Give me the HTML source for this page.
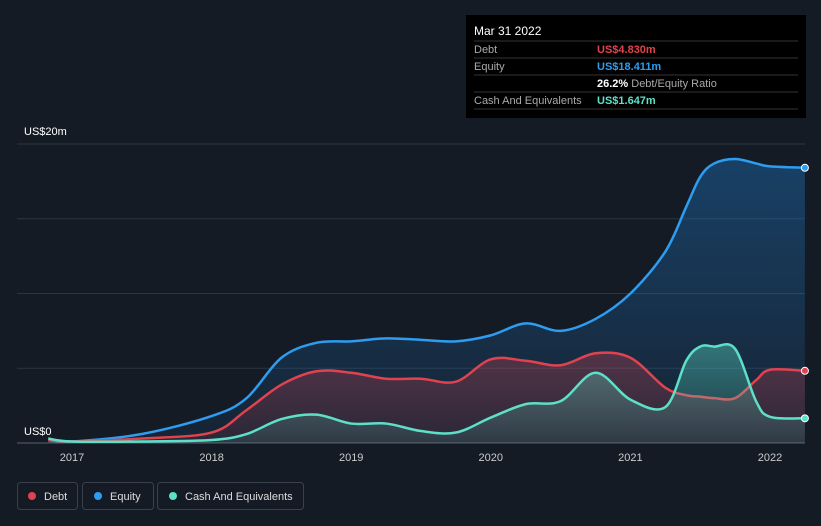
<!DOCTYPE html>
<html><head><meta charset="utf-8"><style>
body{margin:0;background:#151b25;font-family:"Liberation Sans",sans-serif;}
svg{display:block}
</style></head><body>
<svg width="821" height="526" font-family="Liberation Sans, sans-serif">
<rect width="821" height="526" fill="#151b25"/>
<defs>
<linearGradient id="ge" x1="0" y1="0" x2="0" y2="1"><stop offset="0" stop-color="#1d6fb5" stop-opacity="0.45"/><stop offset="1" stop-color="#1d6fb5" stop-opacity="0.1"/></linearGradient>
<linearGradient id="gd" x1="0" y1="0" x2="0" y2="1"><stop offset="0" stop-color="#e0434f" stop-opacity="0.3"/><stop offset="1" stop-color="#e0434f" stop-opacity="0.1"/></linearGradient>
<linearGradient id="gc" x1="0" y1="0" x2="0" y2="1"><stop offset="0" stop-color="#5de0c8" stop-opacity="0.4"/><stop offset="1" stop-color="#5de0c8" stop-opacity="0.1"/></linearGradient>
</defs>
<g id="grid"></g>
<g id="series"></g>
<text x="24" y="135" fill="#fff" font-size="11">US$20m</text>
<text x="24" y="435" fill="#fff" font-size="11">US$0</text>
<g id="xt"></g>
<g>
<rect x="466" y="15" width="340" height="103" fill="#000"/>
<text x="474" y="35" fill="#fff" font-size="12">Mar 31 2022</text>
<line x1="474" y1="41" x2="798" y2="41" stroke="#333"/>
<text x="474" y="53" fill="#aaa" font-size="11">Debt</text>
<text x="597" y="53" fill="#e0434f" font-size="11" font-weight="bold">US$4.830m</text>
<line x1="474" y1="58" x2="798" y2="58" stroke="#333"/>
<text x="474" y="70" fill="#aaa" font-size="11">Equity</text>
<text x="597" y="70" fill="#2e9cf0" font-size="11" font-weight="bold">US$18.411m</text>
<line x1="474" y1="75" x2="798" y2="75" stroke="#333"/>
<text x="597" y="87" fill="#fff" font-size="11" font-weight="bold">26.2% <tspan fill="#aaa" font-weight="normal">Debt/Equity Ratio</tspan></text>
<line x1="474" y1="92" x2="798" y2="92" stroke="#333"/>
<text x="474" y="104" fill="#aaa" font-size="11">Cash And Equivalents</text>
<text x="597" y="104" fill="#5de0c8" font-size="11" font-weight="bold">US$1.647m</text>
<line x1="474" y1="109" x2="798" y2="109" stroke="#333"/>
</g>
<g>
<g><rect x="17.5" y="482.5" width="60" height="27" rx="3" fill="none" stroke="#3a414d"/><circle cx="32" cy="496" r="4" fill="#e0434f"/><text x="44" y="500" fill="#ddd" font-size="11">Debt</text></g>
<g><rect x="82.5" y="482.5" width="71" height="27" rx="3" fill="none" stroke="#3a414d"/><circle cx="98" cy="496" r="4" fill="#2e9cf0"/><text x="110" y="500" fill="#ddd" font-size="11">Equity</text></g>
<g><rect x="157.5" y="482.5" width="146" height="27" rx="3" fill="none" stroke="#3a414d"/><circle cx="173" cy="496" r="4" fill="#5de0c8"/><text x="185" y="500" fill="#ddd" font-size="11">Cash And Equivalents</text></g>
</g>
</svg>
<script>
const dates=[2016.83,2017,2017.5,2018,2018.25,2018.5,2018.75,2019,2019.25,2019.5,2019.75,2020,2020.25,2020.5,2020.75,2021,2021.25,2021.4,2021.5,2021.6,2021.75,2021.9,2022,2022.25];
const equity=[0.2,0.1,0.6,1.8,3.0,5.7,6.7,6.8,7.0,6.9,6.8,7.2,8.0,7.5,8.3,10.0,12.8,15.8,17.8,18.7,19.0,18.7,18.5,18.41];
const debt=[0.2,0.1,0.3,0.7,2.2,3.9,4.8,4.7,4.3,4.3,4.1,5.6,5.5,5.2,6.0,5.7,3.7,3.2,3.1,3.0,3.0,4.2,4.9,4.83];
const cash=[0.3,0.1,0.1,0.2,0.6,1.6,1.9,1.3,1.3,0.8,0.7,1.7,2.6,2.8,4.7,2.9,2.4,5.5,6.45,6.45,6.3,2.8,1.75,1.65];
const yTicks=[0,5,10,15,20];
const xTicks=[2017,2018,2019,2020,2021,2022];
const NS="http://www.w3.org/2000/svg";
const X=v=>72+(v-2017)*139.6, Y=v=>443-v*14.95;
const grid=document.getElementById('grid');
yTicks.forEach(t=>{const l=document.createElementNS(NS,'line');l.setAttribute('x1',17);l.setAttribute('x2',805);l.setAttribute('y1',Y(t));l.setAttribute('y2',Y(t));l.setAttribute('stroke',t==0?'#55606e':'#2c3440');


grid.appendChild(l);});
const xt=document.getElementById('xt');
xTicks.forEach(t=>{const tx=document.createElementNS(NS,'text');tx.setAttribute('x',X(t));tx.setAttribute('y',461);tx.setAttribute('text-anchor','middle');tx.setAttribute('fill','#ccc');tx.setAttribute('font-size','11');tx.textContent=t;


xt.appendChild(tx);});
function path(vals){const p=dates.map((d,i)=>[X(d),Y(vals[i])]);let s='M'+p[0][0]+','+p[0][1];
for(let i=0;i<p.length-1;i++){const p0=p[i-1]||p[i],p1=p[i],p2=p[i+1],p3=p[i+2]||p2;
s+=' C'+(p1[0]+(p2[0]-p0[0])/6)+','+(p1[1]+(p2[1]-p0[1])/6)+' '+(p2[0]-(p3[0]-p1[0])/6)+','+(p2[1]-(p3[1]-p1[1])/6)+' '+p2[0]+','+p2[1];}return s;}
const g=document.getElementById('series');
[[equity,'#2e9cf0','ge','equity'],[debt,'#e0434f','gd','debt'],[cash,'#5de0c8','gc','cash']].forEach(([v,c,gr,n])=>{
const d=path(v);
const a=document.createElementNS(NS,'path');a.setAttribute('d',d+' L'+X(dates[dates.length-1])+','+Y(0)+' L'+X(dates[0])+','+Y(0)+'Z');a.setAttribute('fill','url(#'+gr+')');


g.appendChild(a);
const l=document.createElementNS(NS,'path');l.setAttribute('d',d);l.setAttribute('fill','none');l.setAttribute('stroke',c);l.setAttribute('stroke-width','2.5');


g.appendChild(l);
const ci=document.createElementNS(NS,'circle');ci.setAttribute('cx',X(dates[dates.length-1]));ci.setAttribute('cy',Y(v[v.length-1]));ci.setAttribute('r',3.5);ci.setAttribute('fill',c);ci.setAttribute('stroke','#fff');ci.setAttribute('stroke-width','1');


g.appendChild(ci);});
</script>
</body></html>
